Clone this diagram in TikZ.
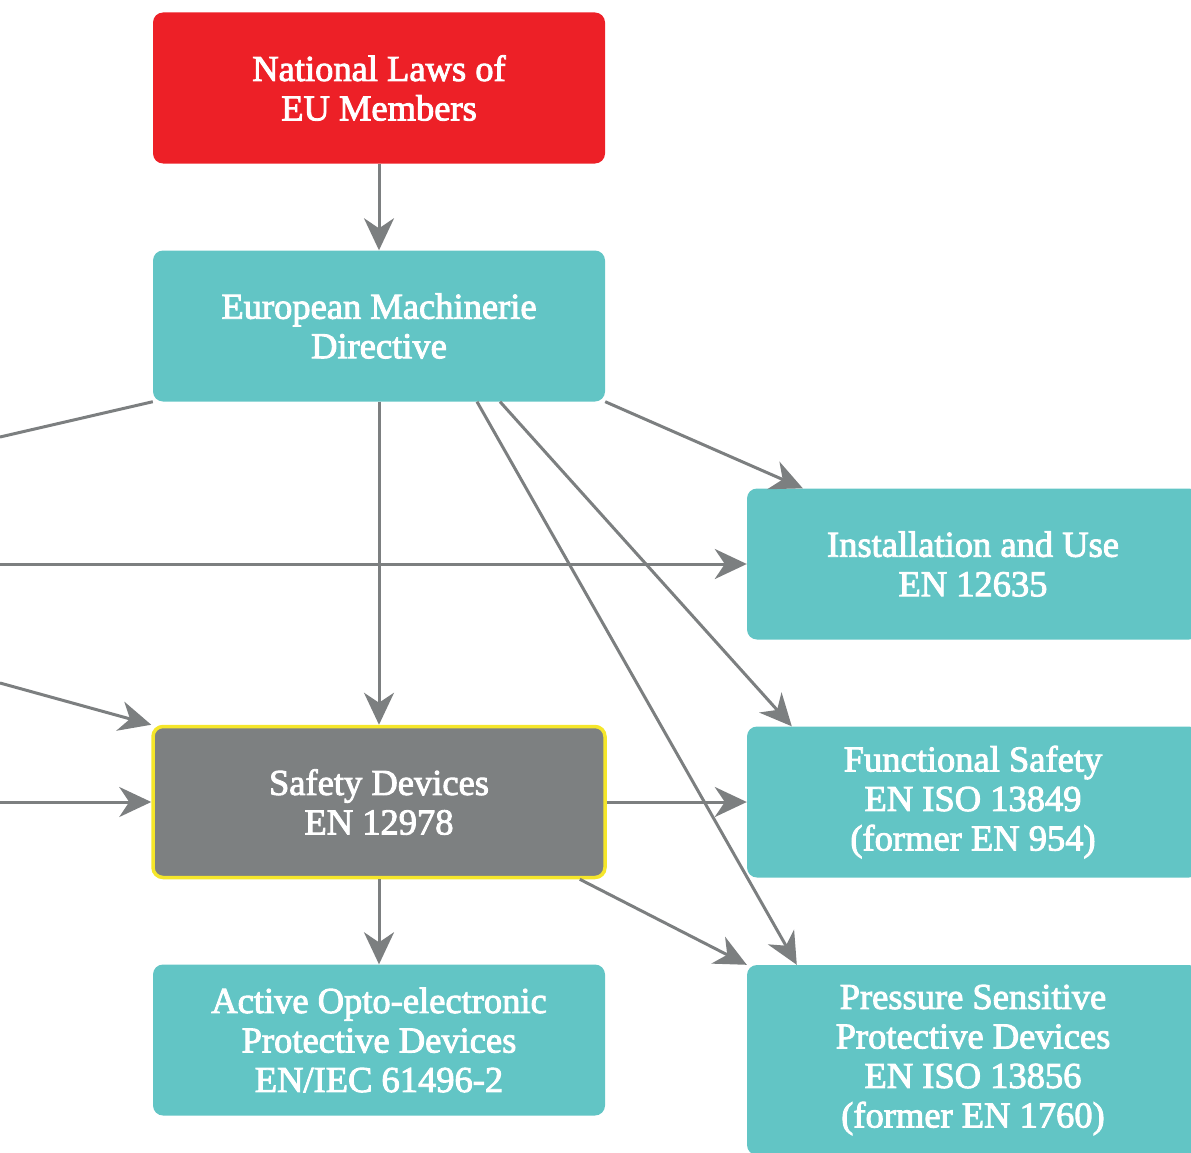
\documentclass[tikz,border=0pt]{standalone}
\usepackage{fontspec}
\newfontfamily\boxfont[FakeBold=2.5]{Liberation Serif}
\usetikzlibrary{arrows.meta}
\definecolor{lawred}{HTML}{ED2027}
\definecolor{normteal}{HTML}{62C5C5}
\definecolor{devgray}{HTML}{7D8081}
\definecolor{linkgray}{HTML}{7C7F80}
\definecolor{edgeyellow}{HTML}{F5E62A}
\begin{document}
\begin{tikzpicture}[x=1pt,y=-1pt,
    box/.style={rounded corners=10pt,minimum width=452pt,minimum height=151pt,inner sep=0pt,align=center,text=white,font=\boxfont\fontsize{36.5}{39.5}\selectfont},
    link/.style={draw=linkgray,line width=3pt,-{Stealth[length=32pt,width=30pt,inset=10pt]}}]
      \useasboundingbox (0,0) rectangle (1191,1153);
      \node[box,fill=lawred] (laws) at (379,88) {National Laws of\\EU Members};
      \node[box,fill=normteal] (eu) at (379,326) {European Machinerie\\Directive};
      \node[box,fill=normteal] (inst) at (973,564) {Installation and Use\\EN 12635};
      \node[box,fill=devgray,draw=edgeyellow,line width=3.5pt] (safety) at (379,802) {Safety Devices\\EN 12978};
      \node[box,fill=normteal] (func) at (973,802) {Functional Safety\\EN ISO 13849\\(former EN 954)};
      \node[box,fill=normteal] (active) at (379,1040) {Active Opto-electronic\\Protective Devices\\EN/IEC 61496-2};
      \node[box,fill=normteal,minimum height=190pt] (press) at (973,1060) {Pressure Sensitive\\Protective Devices\\EN ISO 13856\\(former EN 1760)};
      \coordinate (w1) at (0,437);
      \coordinate (w2) at (0,564);
      \coordinate (w3) at (0,683);
      \coordinate (w4) at (0,802);
      \draw[link] (laws) -- (eu);
      \draw[link] (eu) -- (safety);
      \draw[link] (eu.south east) -- ([xshift=56pt]inst.north west);
      \draw[link] ([xshift=121pt]eu.south) -- ([xshift=45pt]func.north west);
      \draw[link] ([xshift=98pt]eu.south) -- ([xshift=50pt]press.north west);
      \draw[draw=linkgray,line width=3pt] (eu.south west) -- (w1);
      \draw[link] (w2) -- (inst);
      \draw[link] (w3) -- (safety.north west);
      \draw[link] (w4) -- (safety);
      \draw[link] (safety) -- (func);
      \draw[link] (safety) -- (active);
      \draw[link] ([xshift=-27pt]safety.south east) -- (press.north west);
    \end{tikzpicture}
\end{document}
